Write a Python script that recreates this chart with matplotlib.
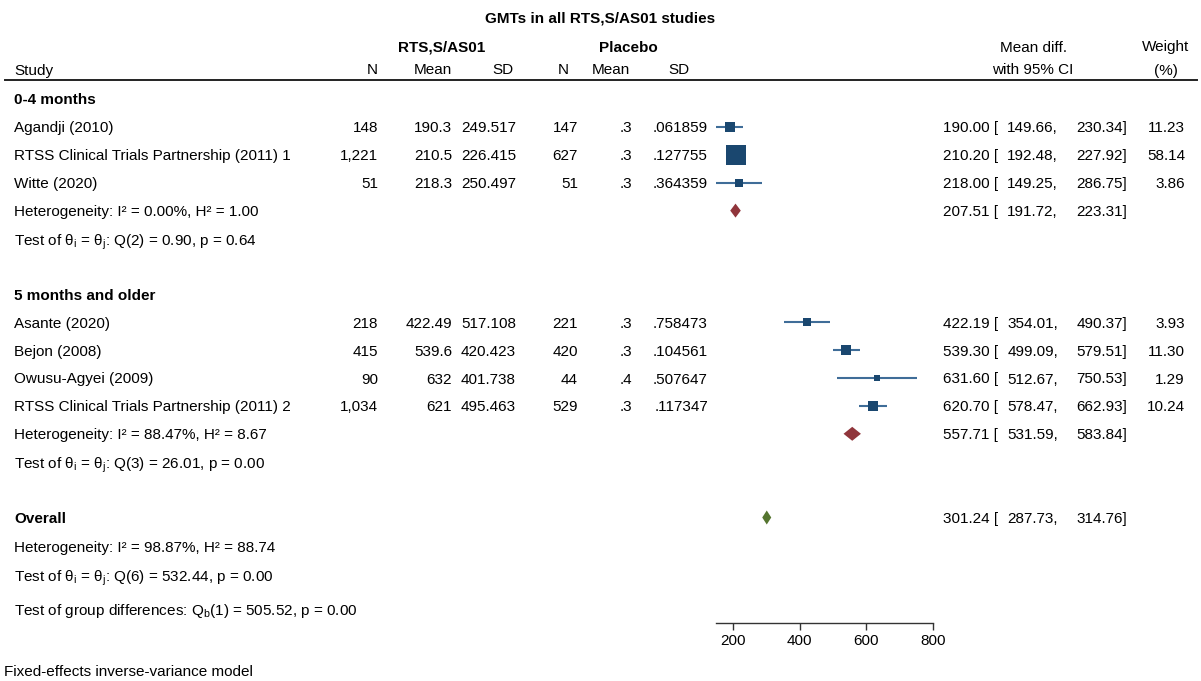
import numpy as np
import matplotlib
matplotlib.use('Agg')
import matplotlib.pyplot as plt
from matplotlib.patches import Polygon

plt.rcParams['font.family'] = ['Liberation Sans', 'DejaVu Sans']
plt.rcParams['mathtext.fontset'] = 'custom'
plt.rcParams['mathtext.rm'] = 'Liberation Sans'
plt.rcParams['mathtext.it'] = 'Liberation Sans'

# ---- data ----
studies = ['Agandji (2010)', 'RTSS Clinical Trials Partnership (2011) 1', 'Witte (2020)',
           'Asante (2020)', 'Bejon (2008)', 'Owusu-Agyei (2009)',
           'RTSS Clinical Trials Partnership (2011) 2']
study_group = [0, 0, 0, 1, 1, 1, 1]
n_trt = ['148', '1,221', '51', '218', '415', '90', '1,034']
mean_trt = ['190.3', '210.5', '218.3', '422.49', '539.6', '632', '621']
sd_trt = ['249.517', '226.415', '250.497', '517.108', '420.423', '401.738', '495.463']
n_pbo = ['147', '627', '51', '221', '420', '44', '529']
mean_pbo = ['.3', '.3', '.3', '.3', '.3', '.4', '.3']
sd_pbo = ['.061859', '.127755', '.364359', '.758473', '.104561', '.507647', '.117347']
md = [190.00, 210.20, 218.00, 422.19, 539.30, 631.60, 620.70]
md_lo = [149.66, 192.48, 149.25, 354.01, 499.09, 512.67, 578.47]
md_hi = [230.34, 227.92, 286.75, 490.37, 579.51, 750.53, 662.93]
weight = [11.23, 58.14, 3.86, 3.93, 11.30, 1.29, 10.24]

groups = ['0-4 months', '5 months and older']
group_md = [207.51, 557.71]
group_lo = [191.72, 531.59]
group_hi = [223.31, 583.84]
group_het = ['Heterogeneity: I\u00b2 = 0.00%, H\u00b2 = 1.00',
             'Heterogeneity: I\u00b2 = 88.47%, H\u00b2 = 8.67']
group_q = ['Q(2) = 0.90, p = 0.64', 'Q(3) = 26.01, p = 0.00']

overall_md = 301.24
overall_lo = 287.73
overall_hi = 314.76
overall_het = 'Heterogeneity: I\u00b2 = 98.87%, H\u00b2 = 88.74'
overall_q = 'Q(6) = 532.44, p = 0.00'
group_diff = 'Q$_\\mathrm{b}$(1) = 505.52, p = 0.00'

xticks = [200, 400, 600, 800]

# ---- layout ----
W, H = 1201, 681
FS = 11
NAVY = '#1a476f'
CI_COL = '#3f6d98'
MAROON = '#90353b'
GREEN = '#55752f'
STEP = 27.9
Y0 = 99
BASE = 5.5  # baseline offset from row centre


def row_y(k):
    return Y0 + STEP * k


def put(x, y, s, ha='left', bold=False):
    tx.text(x, y + BASE, s, ha=ha, va='baseline', fontsize=FS,
            fontweight='bold' if bold else 'normal')


def ci_text(y, est, lo, hi):
    put(998, y, '%.2f [' % est, ha='right')
    put(1058, y, '%.2f,' % lo, ha='right')
    put(1127, y, '%.2f]' % hi, ha='right')


fig = plt.figure(figsize=(W / 100, H / 100), dpi=100)
tx = fig.add_axes([0, 0, 1, 1])
tx.set_xlim(0, W)
tx.set_ylim(H, 0)
tx.axis('off')

# forest panel, x in data units, y in pixel rows from top
xmin, xmax = 150, 800
px_per_unit = (933 - 733) / 600.0
left_px = 733 - (200 - xmin) * px_per_unit
right_px = 933
axis_y = 623
ax = fig.add_axes([left_px / W, (H - axis_y) / H, (right_px - left_px) / W, axis_y / H])
ax.set_xlim(xmin, xmax)
ax.set_ylim(axis_y, 0)
ax.patch.set_visible(False)
for s in ['top', 'right', 'left']:
    ax.spines[s].set_visible(False)
ax.spines['bottom'].set_color('#333333')
ax.spines['bottom'].set_linewidth(1.0)
ax.set_yticks([])
ax.set_xticks(xticks)
ax.tick_params(axis='x', length=5, width=1, color='#333333', labelsize=FS, pad=3)

# header
put(W / 2, 17, 'GMTs in all RTS,S/AS01 studies', ha='center', bold=True)
put(442, 46, 'RTS,S/AS01', ha='center', bold=True)
put(628, 46, 'Placebo', ha='center', bold=True)
put(1033, 46, 'Mean diff.', ha='center')
put(1166, 46, 'Weight', ha='center')
put(14, 69, 'Study')
cols_x = [378, 452, 516, 578, 632, 708]
col_heads = ['N', 'Mean', 'SD', 'N', 'Mean', 'SD']
col_head_x = [372, 433, 503, 563, 611, 679]
for cx, hd in zip(col_head_x, col_heads):
    put(cx, 69, hd, ha='center')
put(1033, 69, 'with 95% CI', ha='center')
put(1166, 69, '(%)', ha='center')
tx.plot([5, 1197], [80, 80], color='#222222', lw=1.4)

# rows
group_start = [0, 7]
for g in range(2):
    k0 = group_start[g]
    put(14, row_y(k0), groups[g], bold=True)
    idx = [i for i in range(len(studies)) if study_group[i] == g]
    for j, i in enumerate(idx):
        y = row_y(k0 + 1 + j)
        put(14, y, studies[i])
        vals = [n_trt[i], mean_trt[i], sd_trt[i], n_pbo[i], mean_pbo[i], sd_pbo[i]]
        for cx, v in zip(cols_x, vals):
            put(cx, y, v, ha='right')
        ci_text(y, md[i], md_lo[i], md_hi[i])
        put(1185, y, '%.2f' % weight[i], ha='right')
        ax.plot([md_lo[i], md_hi[i]], [y, y], color=CI_COL, lw=1.5, solid_capstyle='butt')
        side_px = 2.7 + 2.27 * np.sqrt(weight[i])
        side_pt = side_px * 72 / 100
        ax.scatter([md[i]], [y], marker='s', s=side_pt ** 2, color=NAVY, linewidths=0, zorder=3)
    yh = row_y(k0 + 1 + len(idx))
    put(14, yh, group_het[g])
    ci_text(yh, group_md[g], group_lo[g], group_hi[g])
    ax.add_patch(Polygon([[group_lo[g], yh], [group_md[g], yh - 7], [group_hi[g], yh],
                          [group_md[g], yh + 7]], closed=True, color=MAROON, lw=0))
    put(14, row_y(k0 + 2.05 + len(idx)),
        'Test of \u03b8$_\\mathrm{i}$ = \u03b8$_\\mathrm{j}$: ' + group_q[g])

# overall
yo = row_y(15)
put(14, yo, 'Overall', bold=True)
ci_text(yo, overall_md, overall_lo, overall_hi)
ax.add_patch(Polygon([[overall_lo, yo], [overall_md, yo - 7], [overall_hi, yo],
                      [overall_md, yo + 7]], closed=True, color=GREEN, lw=0))
put(14, row_y(16.05), overall_het)
put(14, row_y(17.1), 'Test of \u03b8$_\\mathrm{i}$ = \u03b8$_\\mathrm{j}$: ' + overall_q)
put(14, row_y(18.3), 'Test of group differences: ' + group_diff)

put(4, 670, 'Fixed-effects inverse-variance model')

fig.savefig('out.png', dpi=100)
